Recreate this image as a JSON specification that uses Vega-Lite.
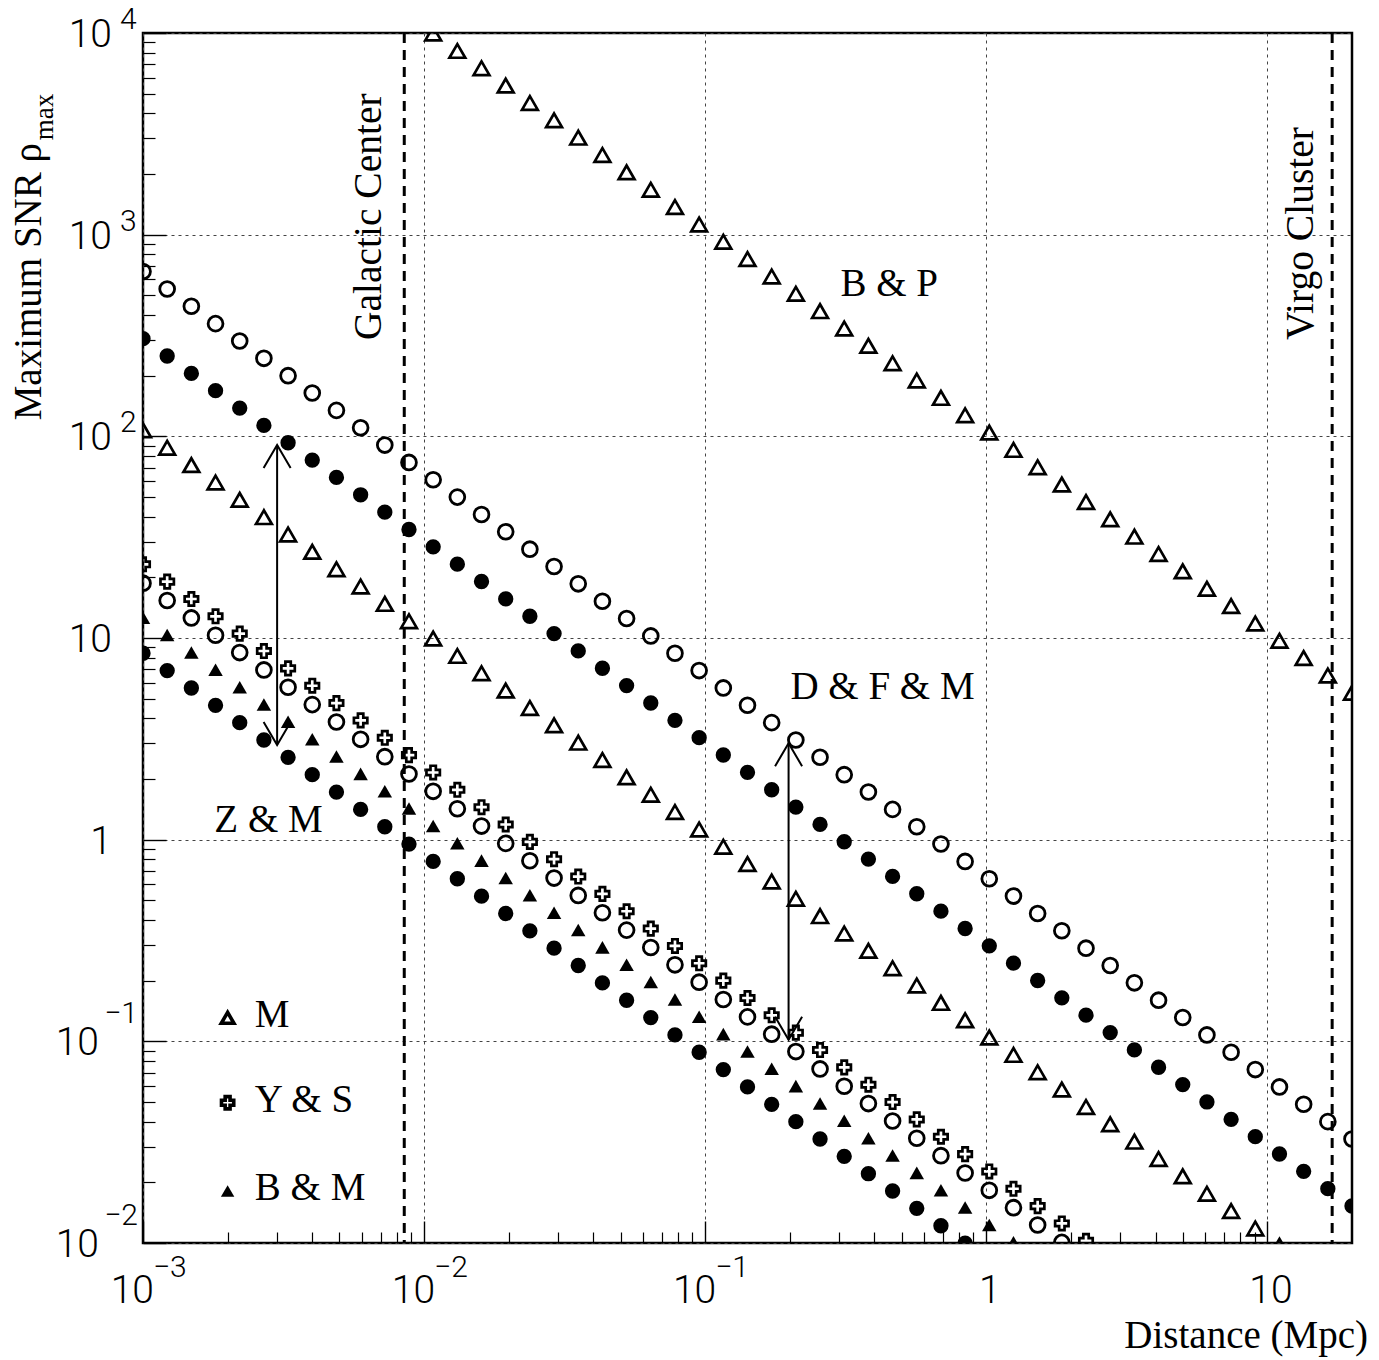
{
  "$schema": "https://vega.github.io/schema/vega-lite/v6.json",
  "width": 1209,
  "height": 1210,
  "autosize": {"type": "none"},
  "padding": {"left": 143, "top": 33, "right": 27, "bottom": 117},
  "background": "white",
  "config": {"view": {"stroke": "black", "strokeWidth": 2.5}},
  "resolve": {"axis": {"x": "independent", "y": "independent"}},
  "datasets": {
    "series": [
      {"d":0.001,"B":656,"C":305,"D":107,"E":23.2,"F":18.7,"G":12.6,"H":8.4},
      {"d":0.001219,"B":538.1,"C":250.2,"D":87.77,"E":19.03,"F":15.34,"G":10.34,"H":6.891},
      {"d":0.0014861,"B":441.4,"C":205.2,"D":72.0,"E":15.61,"F":12.58,"G":8.479,"H":5.652},
      {"d":0.0018116,"B":362.1,"C":168.4,"D":59.06,"E":12.81,"F":10.32,"G":6.955,"H":4.637},
      {"d":0.0022084,"B":297.0,"C":138.1,"D":48.45,"E":10.51,"F":8.468,"G":5.705,"H":3.804},
      {"d":0.0026922,"B":243.7,"C":113.3,"D":39.74,"E":8.618,"F":6.946,"G":4.68,"H":3.12},
      {"d":0.0032819,"B":199.9,"C":92.93,"D":32.6,"E":7.069,"F":5.698,"G":3.839,"H":2.56},
      {"d":0.0040008,"B":164.0,"C":76.23,"D":26.74,"E":5.799,"F":4.674,"G":3.149,"H":2.1},
      {"d":0.0048772,"B":134.5,"C":62.54,"D":21.94,"E":4.757,"F":3.834,"G":2.583,"H":1.722},
      {"d":0.0059455,"B":110.3,"C":51.3,"D":18.0,"E":3.902,"F":3.145,"G":2.119,"H":1.413},
      {"d":0.0072478,"B":90.51,"C":42.08,"D":14.76,"E":3.201,"F":2.58,"G":1.738,"H":1.159},
      {"d":0.0088354,"B":74.25,"C":34.52,"D":12.11,"E":2.626,"F":2.116,"G":1.426,"H":0.9507},
      {"d":0.010771,"A":9934,"B":60.91,"C":28.32,"D":9.934,"E":2.154,"F":1.736,"G":1.17,"H":0.7799},
      {"d":0.01313,"A":8149,"B":49.96,"C":23.23,"D":8.149,"E":1.767,"F":1.424,"G":0.9596,"H":0.6398},
      {"d":0.016006,"A":6685,"B":40.98,"C":19.06,"D":6.685,"E":1.449,"F":1.168,"G":0.7872,"H":0.5248},
      {"d":0.019512,"A":5484,"B":33.62,"C":15.63,"D":5.484,"E":1.189,"F":0.9584,"G":0.6457,"H":0.4305},
      {"d":0.023786,"A":4498,"B":27.58,"C":12.82,"D":4.498,"E":0.9753,"F":0.7862,"G":0.5297,"H":0.3531},
      {"d":0.028997,"A":3690,"B":22.62,"C":10.52,"D":3.69,"E":0.8001,"F":0.6449,"G":0.4345,"H":0.2897},
      {"d":0.035348,"A":3027,"B":18.56,"C":8.628,"D":3.027,"E":0.6563,"F":0.529,"G":0.3565,"H":0.2376},
      {"d":0.043091,"A":2483,"B":15.22,"C":7.078,"D":2.483,"E":0.5384,"F":0.434,"G":0.2924,"H":0.1949},
      {"d":0.052531,"A":2037,"B":12.49,"C":5.806,"D":2.037,"E":0.4416,"F":0.356,"G":0.2399,"H":0.1599},
      {"d":0.064037,"A":1671,"B":10.24,"C":4.763,"D":1.671,"E":0.3623,"F":0.292,"G":0.1968,"H":0.1312},
      {"d":0.078064,"A":1371,"B":8.403,"C":3.907,"D":1.371,"E":0.2972,"F":0.2395,"G":0.1614,"H":0.1076},
      {"d":0.095164,"A":1124,"B":6.893,"C":3.205,"D":1.124,"E":0.2438,"F":0.1965,"G":0.1324,"H":0.08827},
      {"d":0.11601,"A":922.3,"B":5.655,"C":2.629,"D":0.9223,"E":0.2,"F":0.1612,"G":0.1086,"H":0.07241},
      {"d":0.14142,"A":756.6,"B":4.639,"C":2.157,"D":0.7566,"E":0.164,"F":0.1322,"G":0.0891,"H":0.0594},
      {"d":0.1724,"A":620.7,"B":3.805,"C":1.769,"D":0.6207,"E":0.1346,"F":0.1085,"G":0.07309,"H":0.04872},
      {"d":0.21016,"A":509.1,"B":3.121,"C":1.451,"D":0.5091,"E":0.1104,"F":0.08898,"G":0.05995,"H":0.03997},
      {"d":0.2562,"A":417.6,"B":2.561,"C":1.19,"D":0.4176,"E":0.09056,"F":0.07299,"G":0.04918,"H":0.03279},
      {"d":0.31232,"A":342.6,"B":2.1,"C":0.9766,"D":0.3426,"E":0.07428,"F":0.05987,"G":0.04034,"H":0.0269},
      {"d":0.38073,"A":281.0,"B":1.723,"C":0.8011,"D":0.281,"E":0.06094,"F":0.04912,"G":0.03309,"H":0.02206},
      {"d":0.46413,"A":230.5,"B":1.413,"C":0.6571,"D":0.2305,"E":0.04999,"F":0.04029,"G":0.02715,"H":0.0181},
      {"d":0.5658,"A":189.1,"B":1.159,"C":0.5391,"D":0.1891,"E":0.041,"F":0.03305,"G":0.02227,"H":0.01485},
      {"d":0.68973,"A":155.1,"B":0.9511,"C":0.4422,"D":0.1551,"E":0.03364,"F":0.02711,"G":0.01827,"H":0.01218},
      {"d":0.84081,"A":127.3,"B":0.7802,"C":0.3627,"D":0.1273,"E":0.02759,"F":0.02224,"G":0.01499,"H":0.00999},
      {"d":1.0249,"A":104.4,"B":0.6401,"C":0.2976,"D":0.1044,"E":0.02264,"F":0.01825,"G":0.01229},
      {"d":1.2494,"A":85.64,"B":0.5251,"C":0.2441,"D":0.08564,"E":0.01857,"F":0.01497,"G":0.01008},
      {"d":1.5231,"A":70.25,"B":0.4307,"C":0.2003,"D":0.07025,"E":0.01523,"F":0.01228},
      {"d":1.8567,"A":57.63,"B":0.3533,"C":0.1643,"D":0.05763,"E":0.0125,"F":0.01007},
      {"d":2.2634,"A":47.27,"B":0.2898,"C":0.1348,"D":0.04727,"E":0.01025},
      {"d":2.7595,"A":38.78,"B":0.2377,"C":0.1105,"D":0.03878},
      {"d":3.3639,"A":31.81,"B":0.195,"C":0.09067,"D":0.03181},
      {"d":4.1008,"A":26.09,"B":0.16,"C":0.07438,"D":0.02609},
      {"d":4.999,"A":21.4,"B":0.1312,"C":0.06101,"D":0.0214},
      {"d":6.0941,"A":17.56,"B":0.1076,"C":0.05005,"D":0.01756},
      {"d":7.4297,"A":14.4,"B":0.08829,"C":0.04105,"D":0.0144},
      {"d":9.0571,"A":11.81,"B":0.07243,"C":0.03368,"D":0.01181},
      {"d":11.041,"A":9.691,"B":0.05941,"C":0.02762,"D":0.009691},
      {"d":13.46,"A":7.95,"B":0.04874,"C":0.02266},
      {"d":16.408,"A":6.521,"B":0.03998,"C":0.01859},
      {"d":20,"A":5.35,"B":0.0328,"C":0.01525}
    ],
    "vlines": [{"x": 0.0085}, {"x": 17}],
    "arrows": [{"x": 0.003, "lo": 2.95, "hi": 90.6}, {"x": 0.198, "lo": 0.1017, "hi": 3.008}],
    "notes": [{"x": 0.303, "y": 497, "t": "B & P"}, {"x": 0.201, "y": 4.99, "t": "D & F & M"}, {"x": 0.001794, "y": 1.093, "t": "Z & M"}],
    "vnotes": [{"x": 0.007, "y": 300, "t": "Galactic Center"}, {"x": 14.5, "y": 300, "t": "Virgo Cluster"}],
    "legend": [{"k": "M", "y": 0.1308}, {"k": "Y & S", "y": 0.0496}, {"k": "B & M", "y": 0.0181}],
    "ylabPos": [{"v": 10000, "e": "4"}, {"v": 1000, "e": "3"}, {"v": 100, "e": "2"}],
    "ylabPlain": [{"v": 10, "t": "10"}, {"v": 1, "t": "1"}],
    "ylabNeg": [{"v": 0.1, "e": "−1"}, {"v": 0.01, "e": "−2"}],
    "xlabNeg": [{"v": 0.001, "e": "−3"}, {"v": 0.01, "e": "−2"}, {"v": 0.1, "e": "−1"}],
    "xlabPlain": [{"v": 1, "t": "1"}, {"v": 10, "t": "10"}]
  },
  "layer": [
    {
      "data": {"name": "series"},
      "mark": {"type": "point", "shape": "circle", "filled": false, "color": "black", "size": 220, "strokeWidth": 2.8, "opacity": 1, "clip": true},
      "encoding": {
        "x": {"field": "d", "type": "quantitative", "scale": {"type": "log", "domain": [0.001, 20], "nice": false},
          "axis": {"orient": "bottom", "values": [0.001, 0.01, 0.1, 1, 10], "labels": false, "title": null, "domain": false, "ticks": true,
            "tickColor": "black", "tickWidth": 1.4, "tickSize": -22, "grid": true, "gridColor": "#444", "gridDash": [3, 4], "gridWidth": 1}},
        "y": {"field": "B", "type": "quantitative", "scale": {"type": "log", "domain": [0.01, 10000], "nice": false},
          "axis": {"orient": "left", "values": [0.01, 0.1, 1, 10, 100, 1000, 10000], "labels": false, "title": null, "domain": false, "ticks": true,
            "tickColor": "black", "tickWidth": 1.4, "tickSize": -23, "grid": true, "gridColor": "#444", "gridDash": [3, 4], "gridWidth": 1}}
      }
    },
    {
      "data": {"name": "series"},
      "mark": {"type": "point", "shape": "circle", "filled": true, "color": "black", "size": 235, "opacity": 1, "clip": true},
      "encoding": {
        "x": {"field": "d", "type": "quantitative",
          "axis": {"orient": "bottom", "values": [0.002,0.003,0.004,0.005,0.006,0.007,0.008,0.009,0.02,0.03,0.04,0.05,0.06,0.07,0.08,0.09,0.2,0.3,0.4,0.5,0.6,0.7,0.8,0.9,2,3,4,5,6,7,8,9],
            "labels": false, "title": null, "domain": false, "ticks": true, "tickColor": "black", "tickWidth": 1.2, "tickSize": -11, "grid": false}},
        "y": {"field": "C", "type": "quantitative",
          "axis": {"orient": "left", "values": [0.02,0.03,0.04,0.05,0.06,0.07,0.08,0.09,0.2,0.3,0.4,0.5,0.6,0.7,0.8,0.9,2,3,4,5,6,7,8,9,20,30,40,50,60,70,80,90,200,300,400,500,600,700,800,900,2000,3000,4000,5000,6000,7000,8000,9000],
            "labels": false, "title": null, "domain": false, "ticks": true, "tickColor": "black", "tickWidth": 1.2, "tickSize": -12, "grid": false}}
      }
    },
    {
      "data": {"name": "series"},
      "mark": {"type": "point", "shape": "triangle-up", "filled": false, "color": "black", "size": 250, "strokeWidth": 2.7, "opacity": 1, "clip": true},
      "encoding": {"x": {"field": "d", "type": "quantitative", "axis": null}, "y": {"field": "A", "type": "quantitative", "axis": null}}
    },
    {
      "data": {"name": "series"},
      "mark": {"type": "point", "shape": "triangle-up", "filled": false, "color": "black", "size": 250, "strokeWidth": 2.7, "opacity": 1, "clip": true},
      "encoding": {"x": {"field": "d", "type": "quantitative", "axis": null}, "y": {"field": "D", "type": "quantitative", "axis": null}}
    },
    {
      "data": {"name": "series"},
      "mark": {"type": "point", "shape": "cross", "filled": false, "color": "black", "size": 180, "strokeWidth": 2.7, "opacity": 1, "clip": true},
      "encoding": {"x": {"field": "d", "type": "quantitative", "axis": null}, "y": {"field": "E", "type": "quantitative", "axis": null}}
    },
    {
      "data": {"name": "series"},
      "mark": {"type": "point", "shape": "circle", "filled": false, "color": "black", "size": 220, "strokeWidth": 2.8, "opacity": 1, "clip": true},
      "encoding": {"x": {"field": "d", "type": "quantitative", "axis": null}, "y": {"field": "F", "type": "quantitative", "axis": null}}
    },
    {
      "data": {"name": "series"},
      "mark": {"type": "point", "shape": "triangle-up", "filled": true, "color": "black", "size": 210, "opacity": 1, "clip": true},
      "encoding": {"x": {"field": "d", "type": "quantitative", "axis": null}, "y": {"field": "G", "type": "quantitative", "axis": null}}
    },
    {
      "data": {"name": "series"},
      "mark": {"type": "point", "shape": "circle", "filled": true, "color": "black", "size": 235, "opacity": 1, "clip": true},
      "encoding": {"x": {"field": "d", "type": "quantitative", "axis": null}, "y": {"field": "H", "type": "quantitative", "axis": null}}
    },
    {
      "data": {"name": "vlines"},
      "mark": {"type": "rule", "color": "black", "strokeWidth": 3, "strokeDash": [10, 7]},
      "encoding": {"x": {"field": "x", "type": "quantitative", "axis": null}}
    },
    {
      "data": {"name": "arrows"},
      "mark": {"type": "rule", "color": "black", "strokeWidth": 2},
      "encoding": {"x": {"field": "x", "type": "quantitative", "axis": null}, "y": {"field": "lo", "type": "quantitative", "axis": null}, "y2": {"field": "hi"}}
    },
    {
      "data": {"name": "arrows"},
      "mark": {"type": "point", "shape": "M -0.587 1 L 0 0 L 0.587 1", "filled": false, "color": "black", "size": 2116, "strokeWidth": 2, "opacity": 1},
      "encoding": {"x": {"field": "x", "type": "quantitative", "axis": null}, "y": {"field": "hi", "type": "quantitative", "axis": null}}
    },
    {
      "data": {"name": "arrows"},
      "mark": {"type": "point", "shape": "M -0.587 -1 L 0 0 L 0.587 -1", "filled": false, "color": "black", "size": 2116, "strokeWidth": 2, "opacity": 1},
      "encoding": {"x": {"field": "x", "type": "quantitative", "axis": null}, "y": {"field": "lo", "type": "quantitative", "axis": null}}
    },
    {
      "data": {"name": "notes"},
      "mark": {"type": "text", "font": "Liberation Serif", "fontSize": 39, "align": "left", "baseline": "alphabetic", "color": "black"},
      "encoding": {"x": {"field": "x", "type": "quantitative", "axis": null}, "y": {"field": "y", "type": "quantitative", "axis": null}, "text": {"field": "t"}}
    },
    {
      "data": {"name": "vnotes"},
      "mark": {"type": "text", "font": "Liberation Serif", "fontSize": 39.5, "align": "left", "baseline": "alphabetic", "angle": 270, "color": "black"},
      "encoding": {"x": {"field": "x", "type": "quantitative", "axis": null}, "y": {"field": "y", "type": "quantitative", "axis": null}, "text": {"field": "t"}}
    },
    {
      "data": {"name": "legend"},
      "transform": [{"filter": "datum.k == 'M'"}],
      "mark": {"type": "point", "shape": "triangle-up", "filled": false, "color": "black", "size": 160, "strokeWidth": 3.6, "opacity": 1},
      "encoding": {"x": {"datum": 0.002, "type": "quantitative", "axis": null}, "y": {"field": "y", "type": "quantitative", "axis": null}}
    },
    {
      "data": {"name": "legend"},
      "transform": [{"filter": "datum.k == 'Y & S'"}],
      "mark": {"type": "point", "shape": "cross", "filled": false, "color": "black", "size": 150, "strokeWidth": 3.6, "opacity": 1},
      "encoding": {"x": {"datum": 0.002, "type": "quantitative", "axis": null}, "y": {"field": "y", "type": "quantitative", "axis": null}}
    },
    {
      "data": {"name": "legend"},
      "transform": [{"filter": "datum.k == 'B & M'"}],
      "mark": {"type": "point", "shape": "triangle-up", "filled": true, "color": "black", "size": 180, "opacity": 1},
      "encoding": {"x": {"datum": 0.002, "type": "quantitative", "axis": null}, "y": {"field": "y", "type": "quantitative", "axis": null}}
    },
    {
      "data": {"name": "legend"},
      "mark": {"type": "text", "font": "Liberation Serif", "fontSize": 39, "align": "left", "baseline": "middle", "dy": -3, "color": "black"},
      "encoding": {"x": {"datum": 0.0025, "type": "quantitative", "axis": null}, "y": {"field": "y", "type": "quantitative", "axis": null}, "text": {"field": "k"}}
    },
    {
      "data": {"name": "ylabPos"},
      "mark": {"type": "text", "text": "10", "font": "Roboto", "fontWeight": 300, "fontSize": 39, "align": "right", "baseline": "alphabetic", "dx": -31, "dy": 14, "color": "black"},
      "encoding": {"x": {"datum": 0.001, "type": "quantitative", "axis": null}, "y": {"field": "v", "type": "quantitative", "axis": null}}
    },
    {
      "data": {"name": "ylabPos"},
      "mark": {"type": "text", "font": "Roboto", "fontWeight": 300, "fontSize": 30, "align": "left", "baseline": "alphabetic", "dx": -23, "dy": -4, "color": "black"},
      "encoding": {"x": {"datum": 0.001, "type": "quantitative", "axis": null}, "y": {"field": "v", "type": "quantitative", "axis": null}, "text": {"field": "e"}}
    },
    {
      "data": {"name": "ylabPlain"},
      "mark": {"type": "text", "font": "Roboto", "fontWeight": 300, "fontSize": 39, "align": "right", "baseline": "alphabetic", "dx": -31, "dy": 14, "color": "black"},
      "encoding": {"x": {"datum": 0.001, "type": "quantitative", "axis": null}, "y": {"field": "v", "type": "quantitative", "axis": null}, "text": {"field": "t"}}
    },
    {
      "data": {"name": "ylabNeg"},
      "mark": {"type": "text", "text": "10", "font": "Roboto", "fontWeight": 300, "fontSize": 39, "align": "right", "baseline": "alphabetic", "dx": -44, "dy": 14, "color": "black"},
      "encoding": {"x": {"datum": 0.001, "type": "quantitative", "axis": null}, "y": {"field": "v", "type": "quantitative", "axis": null}}
    },
    {
      "data": {"name": "ylabNeg"},
      "mark": {"type": "text", "font": "Roboto", "fontWeight": 300, "fontSize": 30, "align": "right", "baseline": "alphabetic", "dx": -5, "dy": -18, "color": "black"},
      "encoding": {"x": {"datum": 0.001, "type": "quantitative", "axis": null}, "y": {"field": "v", "type": "quantitative", "axis": null}, "text": {"field": "e"}}
    },
    {
      "data": {"name": "xlabNeg"},
      "mark": {"type": "text", "text": "10", "font": "Roboto", "fontWeight": 300, "fontSize": 39, "align": "right", "baseline": "alphabetic", "dx": 11, "dy": 60, "color": "black"},
      "encoding": {"x": {"field": "v", "type": "quantitative", "axis": null}, "y": {"datum": 0.01, "type": "quantitative", "axis": null}}
    },
    {
      "data": {"name": "xlabNeg"},
      "mark": {"type": "text", "font": "Roboto", "fontWeight": 300, "fontSize": 30, "align": "left", "baseline": "alphabetic", "dx": 10, "dy": 34, "color": "black"},
      "encoding": {"x": {"field": "v", "type": "quantitative", "axis": null}, "y": {"datum": 0.01, "type": "quantitative", "axis": null}, "text": {"field": "e"}}
    },
    {
      "data": {"name": "xlabPlain"},
      "mark": {"type": "text", "font": "Roboto", "fontWeight": 300, "fontSize": 39, "align": "center", "baseline": "alphabetic", "dx": 3.5, "dy": 60, "color": "black"},
      "encoding": {"x": {"field": "v", "type": "quantitative", "axis": null}, "y": {"datum": 0.01, "type": "quantitative", "axis": null}, "text": {"field": "t"}}
    },
    {
      "data": {"values": [{}]},
      "mark": {"type": "text", "text": "Maximum SNR ρ", "font": "Liberation Serif", "fontSize": 39, "align": "left", "baseline": "alphabetic", "angle": 270, "dx": 16, "dy": -102, "color": "black"},
      "encoding": {"x": {"datum": 0.001, "type": "quantitative", "axis": null}, "y": {"datum": 100, "type": "quantitative", "axis": null}}
    },
    {
      "data": {"values": [{}]},
      "mark": {"type": "text", "text": "max", "font": "Liberation Serif", "fontSize": 27, "align": "left", "baseline": "alphabetic", "angle": 270, "dx": 296, "dy": -90, "color": "black"},
      "encoding": {"x": {"datum": 0.001, "type": "quantitative", "axis": null}, "y": {"datum": 100, "type": "quantitative", "axis": null}}
    },
    {
      "data": {"values": [{}]},
      "mark": {"type": "text", "text": "Distance (Mpc)", "font": "Liberation Serif", "fontSize": 39, "align": "right", "baseline": "alphabetic", "dx": 16, "dy": 105, "color": "black"},
      "encoding": {"x": {"datum": 20, "type": "quantitative", "axis": null}, "y": {"datum": 0.01, "type": "quantitative", "axis": null}}
    }
  ]
}
